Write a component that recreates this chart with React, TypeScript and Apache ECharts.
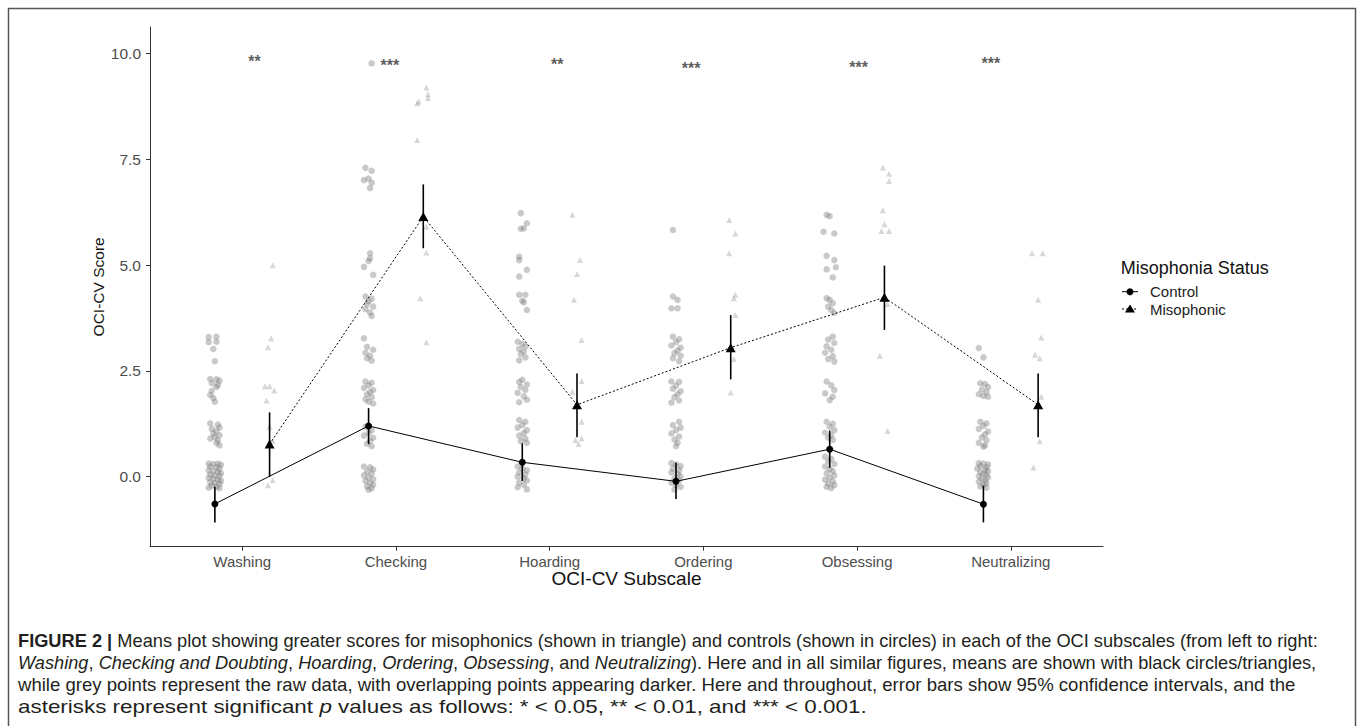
import React, { useEffect, useRef } from 'react';
import * as echarts from 'echarts';

// ---------- data ----------
const categories = ['Washing', 'Checking', 'Hoarding', 'Ordering', 'Obsessing', 'Neutralizing'];
const yTicks = [0, 2.5, 5, 7.5, 10];

const ctrlMean = [-0.645, 1.2, 0.34, -0.11, 0.65, -0.65];
const ctrlLo = [-1.08, 0.77, -0.1, -0.53, 0.21, -1.08];
const ctrlHi = [-0.24, 1.62, 0.79, 0.33, 1.09, -0.21];

const misoMean = [0.77, 6.15, 1.7, 3.05, 4.24, 1.7];
const misoLo = [0.0, 5.4, 0.93, 2.3, 3.47, 0.93];
const misoHi = [1.52, 6.91, 2.44, 3.82, 4.99, 2.44];

const sigLabels = ['**', '***', '**', '***', '***', '***'];
const sigX = [0.08, -0.04, 0.05, -0.08, 0.01, -0.13];
const sigY = [9.81, 9.71, 9.74, 9.65, 9.67, 9.77];

// raw points: [jitter offset (axis units), score]
const washingCtrl: number[][] = [
  [-0.04, 3.3], [0.01, 3.31], [-0.04, 3.18], [0.01, 3.19], [-0.01, 3.02], [0.0, 2.73],
  [-0.03, 2.31], [0.01, 2.3], [0.03, 2.27], [-0.02, 2.21], [0.02, 2.17], [0.01, 2.12], [-0.02, 2.03], [-0.03, 1.93], [-0.01, 1.86], [0.0, 1.77],
  [-0.03, 1.26], [0.02, 1.23], [0.03, 1.16], [-0.02, 1.13], [0.01, 1.08], [-0.01, 1.02], [0.03, 0.98], [0.0, 0.94], [-0.03, 0.9], [0.02, 0.86], [0.01, 0.8], [0.03, 0.74],
  [-0.04, 0.31], [-0.01, 0.3], [0.02, 0.31], [0.04, 0.28], [-0.03, 0.24], [0.01, 0.22], [0.03, 0.19], [-0.04, 0.15], [-0.01, 0.13], [0.02, 0.11], [0.04, 0.08],
  [-0.03, 0.05], [0.0, 0.03], [0.03, 0.01], [-0.04, -0.03], [-0.01, -0.05], [0.02, -0.07], [0.04, -0.1], [-0.03, -0.13], [0.0, -0.15], [0.03, -0.17],
  [-0.02, -0.21], [0.01, -0.24], [0.03, -0.27], [-0.04, -0.26],
];
const washingMiso: number[][] = [
  [0.02, 5.0], [0.01, 3.27], [-0.01, 3.06], [-0.03, 2.14], [0.0, 2.14], [0.03, 2.04], [-0.02, 1.8], [0.0, 1.18], [0.02, 0.85], [0.02, -0.08], [-0.01, -0.2],
];
const checkingCtrl: number[][] = [
  [0.02, 9.77],
  [-0.02, 7.3], [0.02, 7.23], [-0.03, 7.01], [0.0, 7.05], [0.02, 6.95], [0.01, 6.82],
  [0.01, 5.28], [0.01, 5.16], [0.0, 5.1], [-0.03, 4.96], [0.03, 4.77],
  [-0.02, 4.26], [0.02, 4.21], [0.0, 4.15], [-0.01, 4.08], [0.03, 4.02], [-0.02, 3.96], [0.01, 3.88], [0.02, 3.8],
  [-0.03, 3.27], [-0.01, 3.07], [0.03, 3.0], [-0.02, 2.93], [0.01, 2.86], [-0.01, 2.8], [0.02, 2.74],
  [-0.02, 2.25], [0.02, 2.22], [0.0, 2.16], [-0.03, 2.1], [0.03, 2.05], [0.01, 2.0], [-0.01, 1.95], [0.02, 1.88], [-0.02, 1.83], [0.0, 1.77], [0.03, 1.73],
  [-0.02, 1.18], [0.02, 1.1], [0.0, 1.03], [-0.03, 0.97], [0.03, 0.92], [0.01, 0.85], [-0.01, 0.78], [0.02, 0.72],
  [-0.03, 0.24], [0.01, 0.22], [0.03, 0.17], [-0.01, 0.12], [0.02, 0.07], [-0.03, 0.03], [0.0, -0.02], [0.03, -0.06], [-0.02, -0.1], [0.01, -0.15],
  [0.03, -0.19], [-0.01, -0.23], [0.02, -0.28], [0.0, -0.31],
];
const checkingMiso: number[][] = [
  [0.02, 9.2], [0.03, 9.04], [0.03, 8.95], [-0.03, 8.87], [-0.04, 8.83], [-0.04, 7.96], [0.02, 5.91], [0.02, 5.3], [-0.02, 4.22], [0.02, 3.18],
];
const hoardingCtrl: number[][] = [
  [-0.01, 6.23], [0.03, 5.99], [-0.01, 5.86], [0.01, 5.87], [-0.02, 5.2], [-0.02, 5.12], [0.03, 4.89], [-0.02, 4.73], [-0.02, 4.3], [0.02, 4.3], [0.0, 4.16], [0.01, 4.12], [0.03, 3.94],
  [-0.03, 3.19], [0.0, 3.14], [0.02, 3.08], [-0.02, 3.02], [0.01, 2.96], [-0.01, 2.9], [0.02, 2.82], [-0.02, 2.75],
  [0.0, 2.29], [-0.02, 2.24], [0.03, 2.18], [-0.01, 2.12], [0.02, 2.05], [-0.03, 1.98], [0.01, 1.9], [0.03, 1.82], [-0.02, 1.76],
  [-0.02, 1.34], [0.02, 1.3], [0.0, 1.22], [-0.03, 1.16], [0.03, 1.1], [0.01, 1.03], [-0.02, 0.97], [0.02, 0.9], [-0.01, 0.84], [0.03, 0.8],
  [-0.03, 0.24], [0.0, 0.2], [0.03, 0.15], [-0.02, 0.1], [0.02, 0.05], [-0.03, 0.0], [0.01, -0.04], [0.03, -0.09], [-0.02, -0.14], [0.01, -0.19], [-0.03, -0.25], [0.03, -0.3],
];
const hoardingMiso: number[][] = [
  [-0.03, 6.19], [0.02, 5.12], [0.0, 4.79], [-0.02, 4.18], [0.03, 3.23], [0.03, 2.26], [-0.03, 2.01], [0.03, 1.3], [-0.01, 0.87], [0.03, 0.91], [0.01, 0.77],
];
const orderingCtrl: number[][] = [
  [-0.02, 5.83], [-0.02, 4.26], [0.01, 4.18], [-0.03, 3.98], [0.01, 3.98],
  [-0.02, 3.31], [0.02, 3.25], [0.0, 3.18], [-0.03, 3.1], [0.03, 3.05], [0.01, 2.98], [-0.01, 2.92], [0.03, 2.86], [-0.02, 2.8], [0.02, 2.73],
  [-0.03, 2.25], [0.02, 2.24], [0.0, 2.15], [-0.02, 2.08], [0.03, 2.02], [0.01, 1.95], [-0.01, 1.88], [0.02, 1.8], [-0.03, 1.75],
  [0.02, 1.3], [-0.02, 1.22], [0.03, 1.16], [0.0, 1.1], [-0.03, 1.02], [0.02, 0.95], [-0.01, 0.88], [0.01, 0.8], [0.0, 0.72],
  [-0.03, 0.32], [0.0, 0.29], [0.03, 0.25], [-0.02, 0.19], [0.02, 0.15], [-0.03, 0.1], [0.01, 0.06], [0.03, 0.01], [-0.01, -0.04], [0.02, -0.09],
  [-0.03, -0.14], [0.0, -0.19], [0.03, -0.24], [-0.01, -0.3],
];
const orderingMiso: number[][] = [
  [-0.01, 6.07], [0.03, 5.75], [-0.01, 5.28], [0.03, 4.3], [0.02, 4.22], [0.03, 3.82], [0.02, 2.78], [0.0, 1.99],
];
const obsessingCtrl: number[][] = [
  [-0.02, 6.19], [0.0, 6.16], [-0.04, 5.79], [0.03, 5.75], [-0.02, 5.22], [0.03, 5.12], [0.04, 4.95], [-0.02, 4.9], [0.02, 4.71],
  [-0.02, 4.22], [0.0, 4.18], [0.02, 4.1], [-0.01, 4.02], [0.01, 3.94], [0.03, 3.87],
  [0.02, 3.31], [-0.01, 3.24], [0.03, 3.16], [-0.02, 3.08], [0.01, 3.0], [-0.03, 2.93], [0.02, 2.85], [-0.01, 2.78], [0.03, 2.72],
  [-0.02, 2.25], [0.01, 2.16], [0.03, 2.05], [-0.03, 1.97], [0.02, 1.89], [0.0, 1.81],
  [-0.02, 1.3], [0.02, 1.25], [0.0, 1.18], [0.03, 1.1], [-0.03, 1.04], [0.01, 0.98], [-0.01, 0.92], [0.02, 0.87],
  [-0.03, 0.47], [0.01, 0.42], [-0.01, 0.36], [0.03, 0.3], [-0.03, 0.24], [0.0, 0.18], [0.02, 0.13], [-0.02, 0.08], [0.03, 0.03], [0.0, -0.02],
  [-0.03, -0.07], [0.02, -0.11], [-0.01, -0.16], [0.03, -0.2], [-0.02, -0.24], [0.01, -0.27],
];
const obsessingMiso: number[][] = [
  [-0.01, 7.31], [0.03, 7.16], [0.03, 6.99], [-0.01, 6.3], [0.0, 5.97], [-0.02, 5.81], [0.03, 5.81], [0.02, 4.08], [-0.03, 2.86], [0.02, 1.08],
];
const neutralizingCtrl: number[][] = [
  [-0.03, 3.04], [0.0, 2.82],
  [-0.02, 2.21], [0.01, 2.19], [0.03, 2.12], [-0.01, 2.06], [0.02, 2.0], [-0.03, 1.95], [0.0, 1.91], [0.03, 1.89],
  [-0.02, 1.3], [0.02, 1.26], [0.0, 1.2], [-0.03, 1.13], [0.03, 1.07], [0.01, 1.0], [-0.01, 0.93], [0.02, 0.86], [-0.03, 0.8], [0.01, 0.74], [0.0, 0.71],
  [-0.03, 0.32], [0.0, 0.31], [0.03, 0.29], [-0.02, 0.25], [0.02, 0.22], [-0.04, 0.19], [0.01, 0.16], [0.03, 0.13], [-0.02, 0.1], [0.0, 0.07],
  [0.02, 0.04], [-0.03, 0.01], [0.03, -0.02], [-0.01, -0.05], [0.01, -0.09], [-0.03, -0.12], [0.02, -0.15], [0.0, -0.19], [-0.02, -0.23], [0.02, -0.26],
];
const neutralizingMiso: number[][] = [
  [-0.04, 5.28], [0.03, 5.28], [0.0, 4.18], [0.02, 3.29], [-0.02, 2.88], [0.01, 2.8], [0.02, 1.89], [0.01, 0.84], [-0.03, 0.22],
];

const ctrlRaw = [washingCtrl, checkingCtrl, hoardingCtrl, orderingCtrl, obsessingCtrl, neutralizingCtrl];
const misoRaw = [washingMiso, checkingMiso, hoardingMiso, orderingMiso, obsessingMiso, neutralizingMiso];

const captionLines = [
  '{b|FIGURE 2 |} Means plot showing greater scores for misophonics (shown in triangle) and controls (shown in circles) in each of the OCI subscales (from left to right:',
  '{i|Washing}, {i|Checking and Doubting}, {i|Hoarding}, {i|Ordering}, {i|Obsessing}, and {i|Neutralizing}). Here and in all similar figures, means are shown with black circles/triangles,',
  'while grey points represent the raw data, with overlapping points appearing darker. Here and throughout, error bars show 95% confidence intervals, and the',
  'asterisks represent significant {i|p} values as follows: * < 0.05, ** < 0.01, and *** < 0.001.',
];

// ---------- layout constants ----------
const DODGE = 0.178;
const FONT = "'Liberation Sans', Arial, sans-serif";
const CAP_FONT = 18;
const captionY = [641, 663, 685, 707];
const captionScale = [1.013, 1.012, 1.033, 1.245];

export default function App() {
  const ref = useRef<HTMLDivElement>(null);

  useEffect(() => {
    document.body.style.margin = '0';
    if (!ref.current) return;
    const chart = echarts.init(ref.current, undefined, { renderer: 'svg' });

    const ctrlPts: number[][] = [];
    ctrlRaw.forEach((arr, i) => arr.forEach(([dx, y]) => ctrlPts.push([i + 1 - DODGE + dx, y])));
    const misoPts: number[][] = [];
    misoRaw.forEach((arr, i) => arr.forEach(([dx, y]) => misoPts.push([i + 1 + DODGE + dx, y])));

    const errData: number[][] = [];
    categories.forEach((_, i) => {
      errData.push([i + 1 - DODGE, ctrlLo[i], ctrlHi[i]]);
      errData.push([i + 1 + DODGE, misoLo[i], misoHi[i]]);
    });

    const sigData = categories.map((_, i) => [i + 1 + sigX[i], sigY[i], sigLabels[i]]);

    const rich = {
      b: { fontWeight: 'bold', fontSize: CAP_FONT, fontFamily: FONT, fill: '#231f20' },
      i: { fontStyle: 'italic', fontSize: CAP_FONT, fontFamily: FONT, fill: '#231f20' },
    };

    const lx = 1122;
    const ly1 = 291.7;
    const ly2 = 309;

    const option: any = {
      animation: false,
      backgroundColor: '#fff',
      grid: { left: 150, top: 27, width: 953, height: 519.7, containLabel: false },
      xAxis: {
        type: 'value',
        min: 0.4,
        max: 6.6,
        splitLine: { show: false },
        axisLine: { show: true, onZero: false, lineStyle: { color: '#333', width: 1 } },
        axisTick: { show: true, length: 4, customValues: [1, 2, 3, 4, 5, 6], lineStyle: { color: '#333' } },
        axisLabel: {
          customValues: [1, 2, 3, 4, 5, 6],
          formatter: (v: number) => categories[Math.round(v) - 1] ?? '',
          color: '#4d4d4d',
          fontSize: 15,
          fontFamily: FONT,
          margin: 7,
        },
        name: 'OCI-CV Subscale',
        nameLocation: 'middle',
        nameGap: 22,
        nameMoveOverlap: false,
        nameTextStyle: { fontSize: 19, fontFamily: FONT, color: '#111' },
      },
      yAxis: {
        type: 'value',
        min: -1.655,
        max: 10.63,
        splitLine: { show: false },
        axisLine: { show: true, onZero: false, lineStyle: { color: '#333', width: 1 } },
        axisTick: { show: true, length: 4, customValues: yTicks, lineStyle: { color: '#333' } },
        axisLabel: {
          customValues: yTicks,
          formatter: (v: number) => v.toFixed(1),
          color: '#4d4d4d',
          fontSize: 15.5,
          fontFamily: FONT,
          margin: 9,
        },
        name: 'OCI-CV Score',
        nameLocation: 'middle',
        nameGap: 44,
        nameMoveOverlap: false,
        nameRotate: 90,
        nameTextStyle: { fontSize: 15.5, fontFamily: FONT, color: '#111' },
      },
      series: [
        {
          type: 'scatter',
          data: ctrlPts,
          symbol: 'circle',
          symbolSize: 6.5,
          itemStyle: { color: 'rgba(120,120,120,0.5)' },
          silent: true,
        },
        {
          type: 'scatter',
          data: misoPts,
          symbol: 'triangle',
          symbolSize: 6,
          itemStyle: { color: 'rgba(135,135,135,0.42)' },
          silent: true,
        },
        {
          type: 'line',
          data: categories.map((_, i) => [i + 1 - DODGE, ctrlMean[i]]),
          symbol: 'circle',
          symbolSize: 7,
          showSymbol: true,
          lineStyle: { color: '#000', width: 1, type: 'solid' },
          itemStyle: { color: '#000' },
          z: 3,
        },
        {
          type: 'line',
          data: categories.map((_, i) => [i + 1 + DODGE, misoMean[i]]),
          symbol: 'triangle',
          symbolSize: [10, 9],
          showSymbol: true,
          lineStyle: { color: '#000', width: 1, type: [2, 2] },
          itemStyle: { color: '#000' },
          z: 3,
        },
        {
          type: 'custom',
          data: errData,
          encode: { x: 0, y: [1, 2] },
          z: 4,
          renderItem: (_params: any, api: any) => {
            const x = api.value(0);
            const p1 = api.coord([x, api.value(1)]);
            const p2 = api.coord([x, api.value(2)]);
            return {
              type: 'line',
              shape: { x1: p1[0], y1: p1[1], x2: p2[0], y2: p2[1] },
              style: { stroke: '#000', lineWidth: 1.6 },
            };
          },
        },
        {
          type: 'scatter',
          data: sigData,
          symbolSize: 1,
          itemStyle: { color: 'transparent' },
          label: {
            show: true,
            position: 'inside',
            formatter: (p: any) => p.data[2],
            fontSize: 16,
            fontWeight: 'bold',
            fontFamily: FONT,
            color: '#333',
          },
          silent: true,
        },
      ],
      graphic: [
        {
          type: 'rect',
          shape: { x: 8.5, y: 8.5, width: 1347, height: 800 },
          style: { fill: 'none', stroke: '#555', lineWidth: 1.5 },
          silent: true,
        },
        {
          type: 'text',
          x: 1120.7,
          y: 268,
          style: { text: 'Misophonia Status', fontSize: 18, fontFamily: FONT, fill: '#111', verticalAlign: 'middle', align: 'left' },
        },
        { type: 'line', shape: { x1: lx, y1: ly1, x2: lx + 16, y2: ly1 }, style: { stroke: '#000', lineWidth: 1 } },
        { type: 'circle', shape: { cx: lx + 8, cy: ly1, r: 3.5 }, style: { fill: '#000' } },
        {
          type: 'text',
          x: 1150,
          y: ly1,
          style: { text: 'Control', fontSize: 15, fontFamily: FONT, fill: '#222', verticalAlign: 'middle', align: 'left' },
        },
        { type: 'line', shape: { x1: lx, y1: ly2, x2: lx + 16, y2: ly2 }, style: { stroke: '#000', lineWidth: 1, lineDash: [2, 2] } },
        {
          type: 'polygon',
          shape: { points: [[lx + 8, ly2 - 4.5], [lx + 3, ly2 + 3.5], [lx + 13, ly2 + 3.5]] },
          style: { fill: '#000' },
        },
        {
          type: 'text',
          x: 1150,
          y: ly2,
          style: { text: 'Misophonic', fontSize: 15, fontFamily: FONT, fill: '#222', verticalAlign: 'middle', align: 'left' },
        },
        ...captionLines.map((t, i) => ({
          type: 'text',
          x: 18,
          y: captionY[i],
          scaleX: captionScale[i],
          style: {
            text: t,
            rich,
            fontSize: CAP_FONT,
            fontFamily: FONT,
            fill: '#231f20',
            verticalAlign: 'middle',
            align: 'left',
          },
        })),
      ],
    };

    chart.setOption(option);
    return () => chart.dispose();
  }, []);

  return <div ref={ref} style={{ width: 1358, height: 726, overflow: 'hidden' }} />;
}
